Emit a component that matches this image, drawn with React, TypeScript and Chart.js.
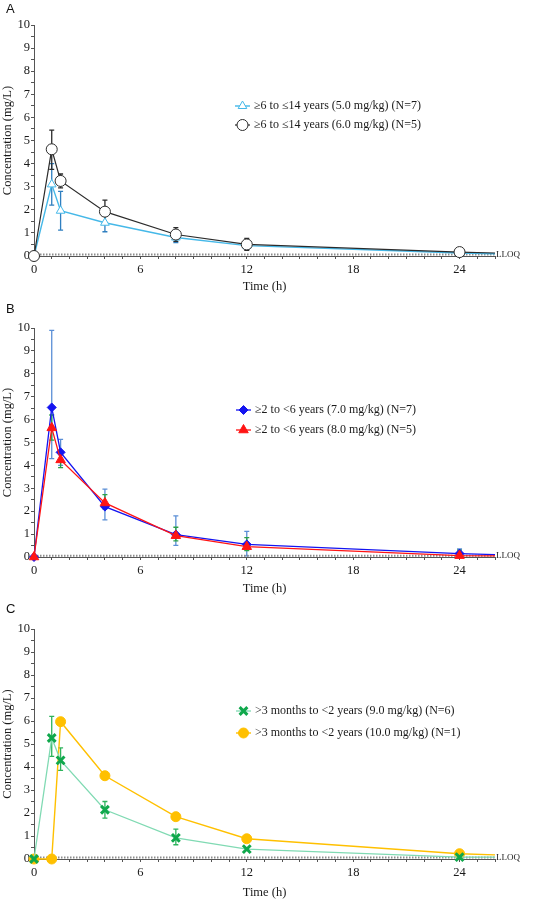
import React, { useEffect, useRef } from 'react';
import { Chart, registerables } from 'chart.js';
import { drawPoint } from 'chart.js/helpers';

Chart.register(...registerables);

// ---------- data ----------
const TIME_H = [0, 1, 1.5, 4, 8, 12, 24, 26];
const X_MAX = 26;
const Y_MAX = 10;
const X_LABEL_EVERY = 6;
const LLOQ = 0.06;

// Panel A
const A_LABELS = ['≥6 to ≤14 years (5.0 mg/kg) (N=7)', '≥6 to ≤14 years (6.0 mg/kg) (N=5)'];
const A_5MG = [0, 3.1, 1.96, 1.44, 0.8, 0.45, 0.13, 0.1];
const A_5MG_LO = [null, 2.2, 1.12, 1.05, 0.58, 0.3, null, null];
const A_5MG_HI = [null, 4.0, 2.8, 1.83, 1.02, 0.6, null, null];
const A_6MG = [0, 4.62, 3.25, 1.92, 0.93, 0.5, 0.17, 0.13];
const A_6MG_LO = [null, 3.75, 2.95, 1.42, 0.63, 0.24, null, null];
const A_6MG_HI = [null, 5.45, 3.55, 2.42, 1.23, 0.76, null, null];

// Panel B
const B_LABELS = ['≥2 to <6 years (7.0 mg/kg) (N=7)', '≥2 to <6 years (8.0 mg/kg) (N=5)'];
const B_7MG = [0, 6.53, 4.57, 2.2, 0.98, 0.55, 0.15, 0.1];
const B_7MG_LO = [null, 4.3, 4.0, 1.62, 0.51, 0.05, null, null];
const B_7MG_HI = [null, 9.9, 5.14, 2.96, 1.8, 1.12, 0.35, null];
const B_8MG = [0, 5.64, 4.24, 2.36, 0.93, 0.45, 0.06, 0.05];
const B_8MG_LO = [null, 5.1, 3.9, 2.1, 0.7, 0.28, null, null];
const B_8MG_HI = [null, 6.2, 4.55, 2.72, 1.3, 0.85, 0.3, null];

// Panel C
const C_LABELS = ['>3 months to <2 years (9.0 mg/kg) (N=6)', '>3 months to <2 years (10.0 mg/kg) (N=1)'];
const C_9MG = [0, 5.26, 4.29, 2.14, 0.92, 0.43, 0.08, 0.08];
const C_9MG_LO = [null, 4.46, 3.85, 1.78, 0.62, null, null, null];
const C_9MG_HI = [null, 6.2, 4.83, 2.5, 1.3, null, null, null];
const C_10MG = [0, 0, 5.97, 3.62, 1.84, 0.88, 0.23, 0.18];

// ---------- styles ----------
const SERIF = '"Liberation Serif", "Times New Roman", serif';

type Series = {
  label: string;
  values: number[];
  lo?: (number | null)[];
  hi?: (number | null)[];
  line: string;
  lineWidth: number;
  style: string;
  radius: number;
  fill: string;
  stroke: string;
  markerWidth: number;
  err?: string;
  order: number;
};

type PanelCfg = {
  letter: string;
  top: number;
  xHeight: number;
  titlePad: number;
  legendX: number;
  legendY: number;
  legendDy: number;
  series: Series[];
};

const PANELS: PanelCfg[] = [
  {
    letter: 'A', top: 25, xHeight: 44, titlePad: 6, legendX: 235, legendY: 106, legendDy: 19,
    series: [
      { label: A_LABELS[0], values: A_5MG, lo: A_5MG_LO, hi: A_5MG_HI, line: '#45B8E8', lineWidth: 1.4,
        style: 'triangle', radius: 5, fill: '#ffffff', stroke: '#45B8E8', markerWidth: 1, err: '#2F7FC0', order: 1 },
      { label: A_LABELS[1], values: A_6MG, lo: A_6MG_LO, hi: A_6MG_HI, line: '#2B2B2B', lineWidth: 1.2,
        style: 'circle', radius: 5.5, fill: '#ffffff', stroke: '#2B2B2B', markerWidth: 1, err: '#2B2B2B', order: 0 },
    ],
  },
  {
    letter: 'B', top: 28, xHeight: 43, titlePad: 4, legendX: 236, legendY: 110, legendDy: 20,
    series: [
      { label: B_LABELS[0], values: B_7MG, lo: B_7MG_LO, hi: B_7MG_HI, line: '#1414F0', lineWidth: 1.3,
        style: 'rectRot', radius: 4.5, fill: '#1414F0', stroke: '#1414F0', markerWidth: 1, err: '#5B8FD6', order: 1 },
      { label: B_LABELS[1], values: B_8MG, lo: B_8MG_LO, hi: B_8MG_HI, line: '#FF1414', lineWidth: 1.3,
        style: 'triangle', radius: 5.5, fill: '#FF1414', stroke: '#FF1414', markerWidth: 1, err: '#2CA048', order: 0 },
    ],
  },
  {
    letter: 'C', top: 29, xHeight: 41, titlePad: 0, legendX: 236, legendY: 111, legendDy: 22,
    series: [
      { label: C_LABELS[0], values: C_9MG, lo: C_9MG_LO, hi: C_9MG_HI, line: '#80DAB3', lineWidth: 1.3,
        style: 'crossRot', radius: 5.5, fill: '#10A84C', stroke: '#10A84C', markerWidth: 3, err: '#2DB35C', order: 0 },
      { label: C_LABELS[1], values: C_10MG, line: '#FFC000', lineWidth: 1.4,
        style: 'circle', radius: 5, fill: '#FFC000', stroke: '#FFC000', markerWidth: 1, order: 1 },
    ],
  },
];

// ---------- plugins ----------
const errorBarPlugin = {
  id: 'errorBars',
  beforeDatasetsDraw(chart: any) {
    const { ctx } = chart;
    const xs = chart.scales.x;
    const ys = chart.scales.y;
    ctx.save();
    chart.data.datasets.forEach((ds: any) => {
      if (!ds.errLo && !ds.errHi) return;
      ds.data.forEach((p: any, i: number) => {
        const lo = ds.errLo ? ds.errLo[i] : null;
        const hi = ds.errHi ? ds.errHi[i] : null;
        if (lo == null && hi == null) return;
        const x = xs.getPixelForValue(p.x);
        const yLo = ys.getPixelForValue(lo == null ? p.y : lo);
        const yHi = ys.getPixelForValue(hi == null ? p.y : hi);
        ctx.strokeStyle = ds.errColor;
        ctx.lineWidth = 1.3;
        ctx.beginPath();
        ctx.moveTo(x, yLo);
        ctx.lineTo(x, yHi);
        if (lo != null) { ctx.moveTo(x - 2.5, yLo); ctx.lineTo(x + 2.5, yLo); }
        if (hi != null) { ctx.moveTo(x - 2.5, yHi); ctx.lineTo(x + 2.5, yHi); }
        ctx.stroke();
      });
    });
    ctx.restore();
  },
};

const legendPlugin = {
  id: 'customLegend',
  afterDraw(chart: any, _args: any, opts: any) {
    const { ctx } = chart;
    ctx.save();
    let row = 0;
    chart.data.datasets.forEach((ds: any) => {
      if (!ds.legendText) return;
      const y = opts.y + row * opts.dy;
      const x0 = opts.x;
      const x1 = x0 + 15;
      ctx.strokeStyle = ds.borderColor;
      ctx.lineWidth = ds.borderWidth;
      ctx.beginPath();
      ctx.moveTo(x0, y);
      ctx.lineTo(x1, y);
      ctx.stroke();
      ctx.fillStyle = ds.pointBackgroundColor;
      ctx.strokeStyle = ds.pointBorderColor;
      ctx.lineWidth = ds.pointBorderWidth;
      drawPoint(ctx, { pointStyle: ds.pointStyle, radius: ds.legendRadius, borderWidth: ds.pointBorderWidth, rotation: 0 } as any, (x0 + x1) / 2, y);
      ctx.fillStyle = '#1a1a1a';
      ctx.font = `12px ${SERIF}`;
      ctx.textBaseline = 'middle';
      ctx.textAlign = 'left';
      ctx.fillText(ds.legendText, x1 + 4, y);
      row++;
    });
    ctx.restore();
  },
};

const lloqPlugin = {
  id: 'lloqLabel',
  afterDraw(chart: any) {
    const { ctx, chartArea } = chart;
    const y = chart.scales.y.getPixelForValue(LLOQ);
    ctx.save();
    ctx.fillStyle = '#1a1a1a';
    ctx.font = `9px ${SERIF}`;
    ctx.textBaseline = 'middle';
    ctx.textAlign = 'left';
    ctx.fillText('LLOQ', chartArea.right + 1, y);
    ctx.restore();
  },
};

// ---------- component ----------
function Panel({ cfg, offset }: { cfg: PanelCfg; offset: number }) {
  const ref = useRef<HTMLCanvasElement>(null);

  useEffect(() => {
    if (!ref.current) return;
    const last = TIME_H.length - 1;
    const datasets: any[] = cfg.series.map((s) => ({
      label: s.label,
      legendText: s.label,
      data: TIME_H.map((t, i) => ({ x: t, y: s.values[i] })),
      borderColor: s.line,
      borderWidth: s.lineWidth,
      pointStyle: s.style,
      pointRadius: TIME_H.map((_, i) => (i === last ? 0 : s.radius)),
      legendRadius: s.radius,
      pointBackgroundColor: s.fill,
      pointBorderColor: s.stroke,
      pointBorderWidth: s.markerWidth,
      errLo: s.lo,
      errHi: s.hi,
      errColor: s.err,
      order: s.order,
      tension: 0,
      fill: false,
      clip: false,
    }));
    datasets.push({
      label: 'LLOQ',
      data: [{ x: 0, y: LLOQ }, { x: X_MAX, y: LLOQ }],
      borderColor: '#8c8c8c',
      borderWidth: 2,
      borderDash: [1.5, 1.5],
      pointRadius: 0,
      order: 5,
      fill: false,
    });

    const tickFont = { family: SERIF, size: 12.5 };
    const chart = new Chart(ref.current, {
      type: 'line',
      data: { datasets },
      plugins: [errorBarPlugin, legendPlugin, lloqPlugin],
      options: {
        animation: false,
        responsive: false,
        events: [],
        layout: { padding: { top: cfg.top, right: 54, left: 0, bottom: 0 } },
        plugins: {
          legend: { display: false },
          tooltip: { enabled: false },
          customLegend: { x: cfg.legendX, y: cfg.legendY, dy: cfg.legendDy },
        } as any,
        scales: {
          x: {
            type: 'linear',
            min: 0,
            max: X_MAX,
            afterFit: (s: any) => { s.height = cfg.xHeight; },
            ticks: {
              stepSize: 1,
              autoSkip: false,
              maxRotation: 0,
              padding: 3,
              color: '#1a1a1a',
              font: tickFont,
              callback: (v: any) => (Number(v) % X_LABEL_EVERY === 0 ? String(v) : ''),
            },
            grid: { drawOnChartArea: false, drawTicks: true, tickLength: 3, tickColor: '#555' },
            border: { display: true, color: '#555', width: 1 },
            title: { display: true, text: 'Time (h)', color: '#1a1a1a', font: tickFont, padding: { top: 0, bottom: cfg.titlePad } },
          },
          y: {
            type: 'linear',
            min: 0,
            max: Y_MAX,
            afterFit: (s: any) => { s.width = 34; },
            ticks: {
              stepSize: 0.5,
              autoSkip: false,
              padding: 1,
              color: '#1a1a1a',
              font: tickFont,
              callback: (v: any) => (Number.isInteger(Number(v)) ? String(v) : ''),
            },
            grid: { drawOnChartArea: false, drawTicks: true, tickLength: 3, tickColor: '#555' },
            border: { display: true, color: '#555', width: 1 },
            title: { display: true, text: 'Concentration (mg/L)', color: '#1a1a1a', font: tickFont, padding: 0 },
          },
        },
      } as any,
    });
    return () => chart.destroy();
  }, [cfg]);

  return (
    <div style={{ position: 'absolute', left: 0, top: offset, width: 549, height: 300 }}>
      <canvas ref={ref} width={549} height={300} style={{ display: 'block', width: 549, height: 300 }} />
      <div style={{ position: 'absolute', left: 6, top: 1, font: '13px "Liberation Sans", Arial, sans-serif', color: '#111' }}>
        {cfg.letter}
      </div>
    </div>
  );
}

export default function App() {
  return (
    <div style={{ position: 'absolute', left: 0, top: 0, width: 549, height: 900, background: '#fff' }}>
      {PANELS.map((p, i) => (
        <Panel key={p.letter} cfg={p} offset={i * 300} />
      ))}
    </div>
  );
}
